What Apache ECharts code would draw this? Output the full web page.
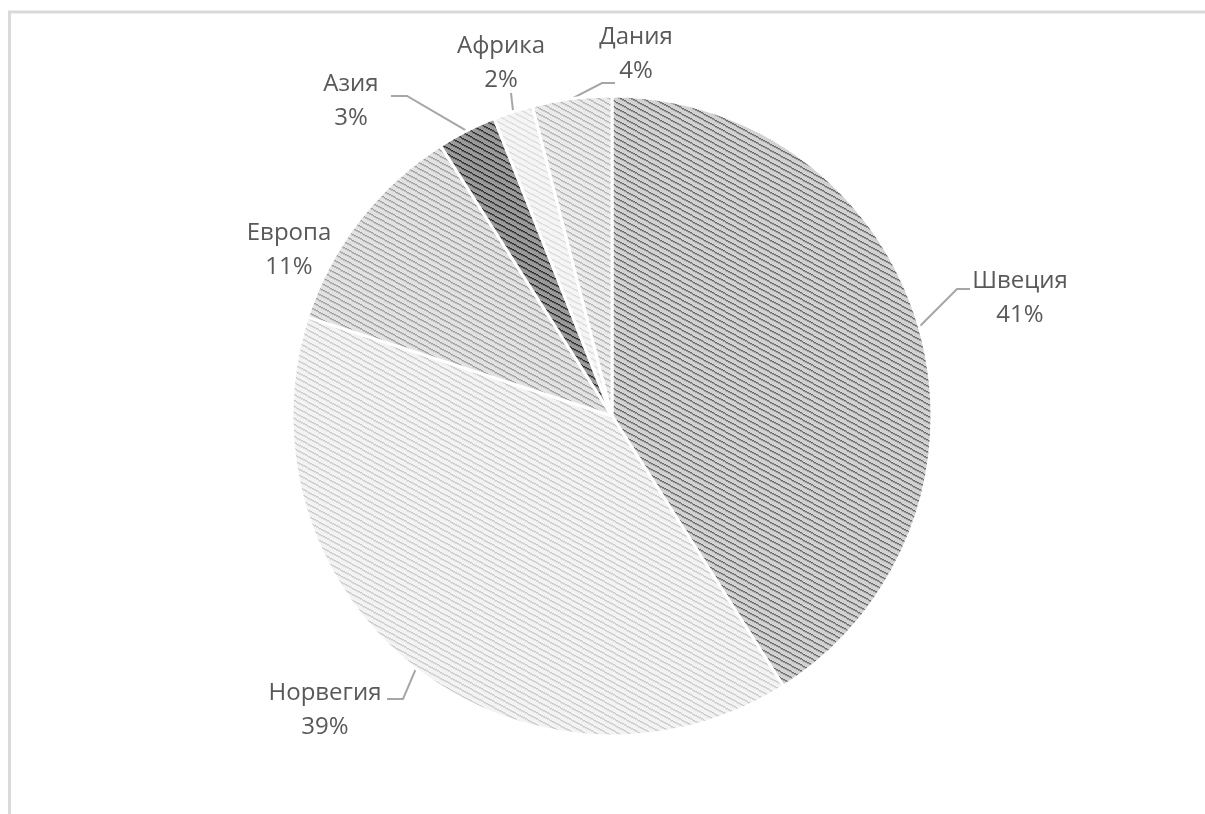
<!DOCTYPE html>
<html>
<head>
<meta charset="utf-8">
<script src="https://cdn.jsdelivr.net/npm/echarts@6/dist/echarts.min.js"></script>
<style>
  html, body { margin: 0; padding: 0; background: #fff; }
  #chart { width: 1205px; height: 814px; }
</style>
</head>
<body>
<div id="chart"></div>
<script>
// ---- data ----
var categories = ['Швеция', 'Норвегия', 'Европа', 'Азия', 'Африка', 'Дания'];
var shares = [41, 39, 11, 3, 2, 4];

// ---- styling / layout (not data) ----
var fills = [
  ['#d2d2d2', '#6a6a6a'],
  ['#f3f3f3', '#cbcbcb'],
  ['#e2e2e2', '#a0a0a0'],
  ['#9a9a9a', '#2c2c2c'],
  ['#f5f5f5', '#dcdcdc'],
  ['#ebebeb', '#b5b5b5']
];
// label block centres
var labelPos = [
  [1020, 298], [325, 710], [289, 250], [351, 101], [501, 63], [636, 54]
];
// leader line elbow + end (start comes from the sector edge)
var leaderTail = [
  [[957, 289], [970, 289]],
  [[403, 699], [387, 699]],
  null,
  [[407, 96], [391, 96]],
  [[511, 93], [511, 93]],
  [[602, 83], [615, 83]]
];

function makePattern(bg, fg) {
  var w = 11, h = 6;
  var c = document.createElement('canvas');
  c.width = w; c.height = h;
  var ctx = c.getContext('2d');
  ctx.fillStyle = bg;
  ctx.fillRect(0, 0, w, h);
  ctx.fillStyle = fg;
  for (var x = 0; x < w; x++) {
    var y = Math.floor(x * h / w);
    ctx.fillRect(x, y % h, 1, 1);
  }
  ctx.globalAlpha = 0.5;
  for (var x2 = 0; x2 < w; x2++) {
    var y2 = Math.floor(x2 * h / w) + 1;
    ctx.fillRect(x2, y2 % h, 1, 1);
  }
  return c;
}

var seriesData = categories.map(function (name, i) {
  return {
    name: name,
    value: shares[i],
    itemStyle: { color: { image: makePattern(fills[i][0], fills[i][1]), repeat: 'repeat' } },
    labelLine: { show: leaderTail[i] !== null }
  };
});

var chart = echarts.init(document.getElementById('chart'), null, { renderer: 'canvas' });
chart.setOption({
  backgroundColor: '#ffffff',
  animation: false,
  graphic: [
    { type: 'line', shape: { x1: 8, y1: 12, x2: 1205, y2: 12 }, style: { stroke: '#d9d9d9', lineWidth: 3 }, silent: true },
    { type: 'line', shape: { x1: 9.5, y1: 11, x2: 9.5, y2: 814 }, style: { stroke: '#d9d9d9', lineWidth: 3 }, silent: true }
  ],
  series: [{
    type: 'pie',
    center: [612, 416],
    radius: 320,
    startAngle: 90,
    clockwise: true,
    avoidLabelOverlap: false,
    itemStyle: { borderColor: '#ffffff', borderWidth: 3 },
    label: {
      show: true,
      position: 'outside',
      formatter: '{b}\n{c}%',
      color: '#595959',
      fontFamily: 'Open Sans',
      fontSize: 24,
      lineHeight: 34,
      align: 'center'
    },
    labelLine: { show: true, lineStyle: { color: '#a6a6a6', width: 2 } },
    labelLayout: function (params) {
      var i = params.dataIndex;
      var out = {
        x: labelPos[i][0],
        y: labelPos[i][1],
        align: 'center',
        verticalAlign: 'middle'
      };
      if (leaderTail[i] && params.labelLinePoints) {
        var s = params.labelLinePoints[0];
        out.labelLinePoints = [s, leaderTail[i][0], leaderTail[i][1]];
      }
      return out;
    },
    emphasis: { disabled: true },
    data: seriesData
  }]
});
</script>
</body>
</html>
